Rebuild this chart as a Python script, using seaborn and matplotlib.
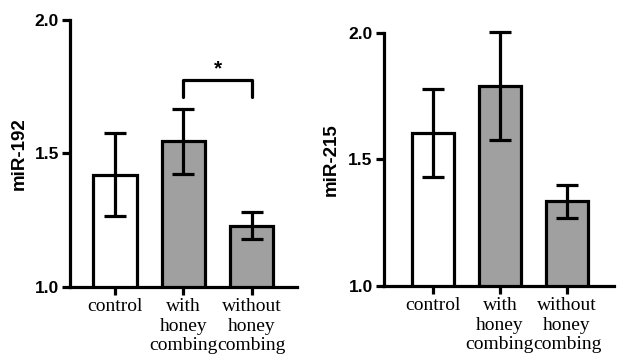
import matplotlib.pyplot as plt
import numpy as np
import pandas as pd
import seaborn as sns

groups = ["control", "with\nhoney\ncombing", "without\nhoney\ncombing"]
mir192_mean = [1.42, 1.545, 1.23]
mir192_err = [0.155, 0.12, 0.05]
mir215_mean = [1.605, 1.79, 1.335]
mir215_err = [0.175, 0.215, 0.065]
bar_colors = ["white", "#a0a0a0", "#a0a0a0"]
yticks = [1.0, 1.5, 2.0]

sns.set_style("ticks")
plt.rcParams["font.family"] = ["Liberation Sans", "DejaVu Sans"]
plt.rcParams["text.color"] = "black"
plt.rcParams["axes.labelcolor"] = "black"
plt.rcParams["xtick.color"] = "black"
plt.rcParams["ytick.color"] = "black"

fig = plt.figure(figsize=(6.24, 3.62), dpi=100)
ax1 = fig.add_axes([0.112, 0.207, 0.364, 0.738])
ax2 = fig.add_axes([0.615, 0.21, 0.369, 0.699])

LW = 2.3


def draw(ax, means, errs, label, xlim, labelpad):
    df = pd.DataFrame({"group": groups, "value": means})
    sns.barplot(data=df, x="group", y="value", hue="group", palette=bar_colors,
                legend=False, width=0.63, edgecolor="black", linewidth=LW,
                errorbar=None, ax=ax)
    eb = ax.errorbar(np.arange(len(means)), means, yerr=errs, fmt="none", ecolor="black",
                     elinewidth=LW, capsize=8, capthick=LW, zorder=5)
    for art in eb.get_children():
        art.set_clip_on(False)
    ax.set_ylim(1.0, 2.0)
    ax.set_xlim(*xlim)
    ax.set_yticks(yticks)
    ax.set_yticklabels([f"{t:.1f}" for t in yticks], fontsize=12.5, fontweight="bold")
    ax.set_xticks(range(len(groups)))
    ax.set_xticklabels(groups, fontsize=14, family="Liberation Serif", linespacing=1.2)
    ax.tick_params(axis="both", length=6, width=LW, color="black", labelcolor="black", pad=2)
    ax.set_xlabel("")
    ax.set_ylabel(label, fontsize=13.5, fontweight="bold", labelpad=labelpad)
    sns.despine(ax=ax)
    for s in ["left", "bottom"]:
        ax.spines[s].set_linewidth(LW)
        ax.spines[s].set_color("black")


draw(ax1, mir192_mean, mir192_err, "miR-192", (-0.66, 2.66), 5)
draw(ax2, mir215_mean, mir215_err, "miR-215", (-0.73, 2.70), 6)

# significance bracket
ax1.plot([1, 1, 2, 2], [1.71, 1.775, 1.775, 1.71], color="black", lw=LW, clip_on=False)
ax1.text(1.5, 1.815, "*", ha="center", va="center", fontsize=15, fontweight="bold")

fig.savefig("out.png", dpi=100)
